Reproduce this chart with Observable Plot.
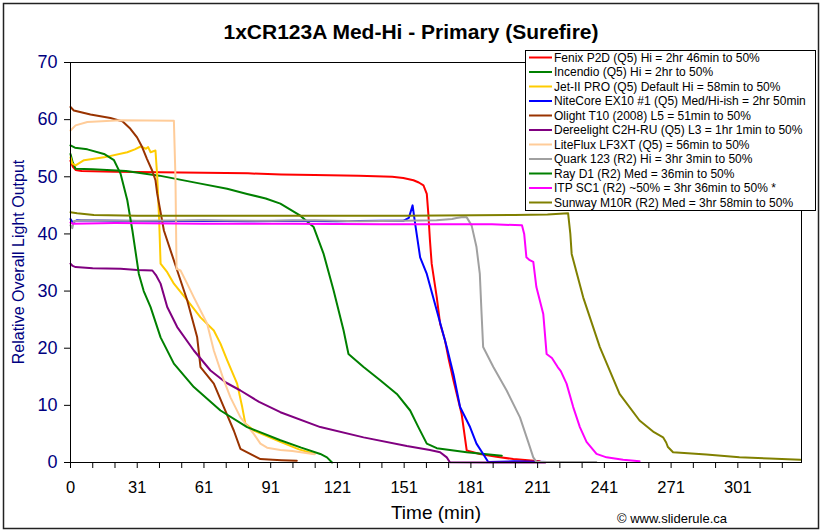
<!DOCTYPE html>
<html>
<head>
<meta charset="utf-8">
<script src="https://cdn.jsdelivr.net/npm/d3@7"></script>
<script src="https://cdn.jsdelivr.net/npm/@observablehq/plot@0.6"></script>
<style>
  html, body { margin: 0; padding: 0; background: #ffffff; }
  #chart { width: 823px; height: 532px; }
</style>
</head>
<body>
<div id="chart"></div>
<script>
// ---------- chart texts ----------
const chartTitle = "1xCR123A Med-Hi - Primary (Surefire)";
const yTitle = "Relative Overall Light Output";
const xTitle = "Time (min)";
const credit = "© www.sliderule.ca";

// ---------- tick labels ----------
const xTickLabels = ["0", "31", "61", "91", "121", "151", "181", "211", "241", "271", "301"];
const yTicks = [0, 10, 20, 30, 40, 50, 60, 70];

// ---------- series names / colours (legend order) ----------
const seriesNames = [
  "Fenix P2D (Q5) Hi = 2hr 46min to 50%",
  "Incendio (Q5) Hi = 2hr to 50%",
  "Jet-II PRO (Q5) Default Hi = 58min to 50%",
  "NiteCore EX10 #1 (Q5) Med/Hi-ish = 2hr 50min",
  "Olight T10 (2008) L5 = 51min to 50%",
  "Dereelight C2H-RU (Q5) L3 = 1hr 1min to 50%",
  "LiteFlux LF3XT (Q5) = 56min to 50%",
  "Quark 123 (R2) Hi = 3hr 3min to 50%",
  "Ray D1 (R2) Med = 36min to 50%",
  "ITP SC1 (R2) ~50% = 3hr 36min to 50% *",
  "Sunway M10R (R2) Med = 3hr 58min to 50%"
];
const seriesColors = ["#FF0000", "#008000", "#FFCC00", "#0000FF", "#993300", "#800080",
                      "#FFCC99", "#A0A0A0", "#008000", "#FF00FF", "#808000"];

// ---------- series values: [time (min), relative output] ----------
const fenix = [[0,52.8],[1,51.8],[2.3,51.2],[5,51.0],[20,50.9],[40,50.8],[60,50.7],[80,50.6],[95,50.4],
  [110,50.3],[130,50.2],[145,50.0],[150,49.8],[154.6,49.4],[157,49.0],[159.1,48.5],[160.6,47.0],
  [161.3,43.5],[162,39],[162.8,34.8],[165.1,28.9],[166.6,24.3],[168.8,21.4],[170.5,18],[172.6,14.4],
  [176.3,8.5],[178.6,2.1],[184.5,1.5],[192,1.0],[199.6,0.6],[211.5,0.2]];
const incendio = [[0,54.0],[1,52.5],[2.3,51.4],[10,51.3],[25,51.0],[40,50.2],[58.6,48.8],[70.6,47.9],
  [79.6,47.0],[88,46.2],[94.6,45.3],[103.6,43.2],[109.6,41.2],[114.1,36.5],[118.6,30.1],[123.1,23.1],
  [125.3,19.0],[132.1,16.7],[139.6,14.4],[147.1,12.0],[153.1,9.1],[156.8,6.2],[160.6,3.3],[165.1,2.5],
  [178.6,1.8],[194.4,1.2]];
const jet2 = [[0,53.4],[0.8,52.3],[2.3,52.0],[6.1,52.9],[15.1,53.4],[25.6,54.3],[29,54.8],[31.6,55.3],
  [34,54.9],[35,55.2],[36.1,54.3],[38.3,54.6],[39.1,50],[40,42],[40.6,34.8],[43.6,33.3],[46.6,31.3],
  [52.6,28.4],[58.6,25.4],[64.6,23.1],[67.6,20.8],[70.6,17.9],[75.1,13.8],[77.4,9.7],[78.8,6.8],
  [82.6,5.6],[94.6,3.6],[103,2.3],[110,1.5]];
const nitecore = [[0,42.6],[1,42.0],[3,42.4],[20,42.3],[40,42.2],[60,42.3],[80,42.2],[100,42.3],
  [120,42.2],[140,42.3],[150,42.3],[152.5,42.8],[154.2,45.0],[155.2,42.2],[157.6,35.9],[160.6,33.0],
  [165.1,26.6],[169.6,20.2],[172.6,15.5],[175.6,9.7],[180.1,6.2],[183,3.3],[186,1.5],[188.3,0.1],
  [200,0.2],[215,0.1],[234,0.1]];
const olight = [[0,62.2],[1.5,61.6],[9,60.9],[18,60.3],[23.4,59.7],[27,58.4],[30,56.9],[32.3,55.2],
  [34.5,53.1],[36.8,51.1],[38.3,49.4],[39.1,47.0],[42.1,40.6],[48.1,33.6],[52.6,28.4],[57.1,21.9],
  [58.6,16.7],[64.6,13.8],[69.1,9.7],[73.6,5.6],[76.6,2.4],[85.6,0.6],[95,0.4],[102,0.3]];
const dereelight = [[0,34.8],[1,34.4],[2.3,34.2],[10,34.0],[22.6,33.9],[30,33.7],[36.9,33.6],[38.5,32.8],
  [40.6,31.3],[43.6,27.2],[48.1,23.7],[55.6,19.6],[63.1,16.1],[70,14.0],[76.6,12.6],[85,10.6],
  [94.6,8.8],[112.6,6.2],[132.1,4.4],[151.6,2.9],[162,2.2],[166.6,1.8],[169.6,0.9],[171,0.05],
  [190,0],[214,0]];
const liteflux = [[0,58.1],[2.3,59.0],[7.6,59.6],[22.6,59.9],[46.6,59.8],[47.3,50],[47.8,33.9],
  [49.6,33.6],[52.6,31.3],[55.6,28.9],[58.6,26.6],[61.6,24.3],[64.6,19.6],[69.1,14.4],[72.1,11.4],
  [76.6,7.9],[82.6,5.0],[85.6,3.3],[88.6,2.6],[94.6,2.2],[100,2.0],[110,1.45]];
const quark = [[0,41.5],[0.8,41.0],[1.5,42.2],[5,42.4],[30,42.3],[60,42.4],[90,42.3],[110,42.4],
  [130,42.2],[150,42.3],[165,42.4],[172,42.6],[174,42.8],[176.3,42.9],[178.6,42.9],[180.8,41.5],
  [183,37.7],[184.5,33.0],[185.3,26.0],[186,20.2],[190.6,16.7],[196.6,12.6],[202.6,7.9],[206.3,3.6],
  [208.6,0.9],[210,0.1],[237,0.1]];
const rayD1 = [[0,55.5],[2,55.1],[7.6,54.8],[15.1,54.0],[19.6,52.9],[22.6,50.5],[25.6,45.9],[27.9,40.6],
  [30.8,33.0],[33,30],[36.1,27.2],[40.6,21.9],[46.6,17.3],[55.6,13.2],[67.6,9.1],[79.6,6.2],
  [94.6,3.9],[104,2.6],[112.6,1.5],[115.6,0.9],[117.9,0]];
const itpSC1 = [[0,42.0],[1,41.8],[20,41.9],[60,41.8],[100,41.8],[140,41.7],[170,41.7],[190,41.7],
  [203.5,41.5],[204.5,40],[205.5,35.9],[207,35.4],[208.6,35.1],[210,30.7],[213.1,26.0],[214.6,19.0],
  [217,18.3],[219.6,16.7],[221,16.0],[223.6,13.8],[226.6,9.7],[229.6,6.2],[232.6,3.6],[237.1,1.5],
  [241.6,0.9],[249.1,0.5],[256.5,0.2]];
const sunway = [[0,43.8],[3,43.6],[10.5,43.3],[30,43.2],[60,43.2],[100,43.2],[150,43.2],[200,43.3],
  [215,43.4],[224.3,43.6],[225.3,40],[225.9,36.5],[231.1,28.9],[238.6,20.2],[247.5,12.0],[256.5,7.35],
  [263,5.3],[267.1,4.4],[268.5,3.5],[269.3,2.7],[271.6,1.8],[286.6,1.4],[301.5,0.9],[315,0.7],[329,0.5]];

const allSeries = [fenix, incendio, jet2, nitecore, olight, dereelight, liteflux, quark, rayD1, itpSC1, sunway];

// ---------- axis geometry ----------
const xMax = 329.5;
const xMajorStep = 30.08;          // Excel major unit (labels rounded as in the original)
const xMinorPerMajor = 3;

const majorTicks = xTickLabels.map((_, i) => i * xMajorStep);
const allXTicks = [];
for (let k = 0; k * xMajorStep / xMinorPerMajor <= xMax; k++) allXTicks.push(k * xMajorStep / xMinorPerMajor);

const FONT = "'Liberation Sans', Arial, Helvetica, sans-serif";

const lineMarks = allSeries.map((pts, i) =>
  Plot.line(pts.map(([t, v]) => ({t, v})), {
    x: "t", y: "v", stroke: seriesColors[i], strokeWidth: 2, strokeLinejoin: "round"
  })
);

const svg = Plot.plot({
  width: 823,
  height: 532,
  marginLeft: 70,
  marginRight: 22,
  marginTop: 62,
  marginBottom: 70,
  style: {fontFamily: FONT, background: "#ffffff", color: "#000"},
  x: {domain: [0, xMax], label: null},
  y: {domain: [0, 70], label: null},
  marks: [
    ...lineMarks,
    Plot.frame({stroke: "#000", strokeWidth: 1}),
    Plot.axisX(allXTicks, {
      tickSize: 6, tickPadding: 13, fontSize: 16.5, label: null, stroke: "#000", fill: "#000",
      tickFormat: (d) => {
        const i = majorTicks.findIndex(m => Math.abs(m - d) < 1e-6);
        return i >= 0 ? xTickLabels[i] : "";
      }
    }),
    Plot.axisY(yTicks, {
      tickSize: 6, tickPadding: 7, fontSize: 18, label: null, stroke: "#000", fill: "#000080"
    })
  ]
});

const root = d3.select(svg);

// outer chart border
root.append("rect")
  .attr("x", 3.5).attr("y", 3.5).attr("width", 815).attr("height", 525)
  .attr("fill", "none").attr("stroke", "#222").attr("stroke-width", 1.5);

// title
root.append("text")
  .attr("x", 411).attr("y", 39)
  .attr("text-anchor", "middle")
  .style("font-family", FONT).style("font-weight", "bold").style("font-size", "21px")
  .attr("fill", "#000")
  .text(chartTitle);

// y title
root.append("text")
  .attr("transform", "translate(18.5,262) rotate(-90)")
  .attr("text-anchor", "middle").attr("dy", "0.35em")
  .style("font-family", FONT).style("font-size", "16px")
  .attr("fill", "#000080")
  .text(yTitle);

// x title
root.append("text")
  .attr("x", 436).attr("y", 519)
  .attr("text-anchor", "middle")
  .style("font-family", FONT).style("font-size", "19px")
  .attr("fill", "#000")
  .text(xTitle);

// credit
root.append("text")
  .attr("x", 672).attr("y", 523)
  .attr("text-anchor", "middle")
  .style("font-family", FONT).style("font-size", "13px")
  .attr("fill", "#000")
  .text(credit);

// legend
const lg = root.append("g").attr("text-anchor", "start");
lg.append("rect")
  .attr("x", 525.5).attr("y", 50.5).attr("width", 290).attr("height", 160)
  .attr("fill", "#fff").attr("stroke", "#000").attr("stroke-width", 1);
seriesNames.forEach((name, i) => {
  const cy = 57.5 + i * 14.5;
  lg.append("line")
    .attr("x1", 529).attr("x2", 552).attr("y1", cy).attr("y2", cy)
    .attr("stroke", seriesColors[i]).attr("stroke-width", 2);
  lg.append("text")
    .attr("x", 554).attr("y", cy).attr("dy", "0.35em")
    .attr("text-anchor", "start")
    .style("font-family", FONT).style("font-size", "12px")
    .attr("fill", "#000")
    .text(name);
});

document.getElementById("chart").appendChild(svg);
</script>
</body>
</html>
